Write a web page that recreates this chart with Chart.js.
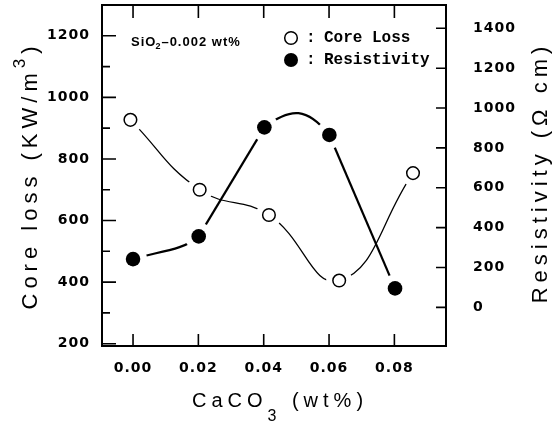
<!DOCTYPE html>
<html>
<head>
<meta charset="utf-8">
<script src="https://cdn.jsdelivr.net/npm/chart.js@4"></script>
<style>
  html, body { margin: 0; padding: 0; background: #fff; }
</style>
</head>
<body>
<canvas id="chart1" width="555" height="422"></canvas>
<script>
// CaCO3 content (wt%), one list per series
const coreLossX = [-0.0008, 0.0204, 0.0416, 0.0631, 0.0857];
const coreLoss = [927, 700, 618, 405, 754];          // KW/m3, left axis
const resistX = [0.000, 0.0201, 0.0402, 0.0601, 0.0802];
const resistivity = [242, 356, 903, 865, 95];        // ohm cm, right axis

// tick values
const xTicks = [0, 0.02, 0.04, 0.06, 0.08];
const lossTicks = [200, 400, 600, 800, 1000, 1200];
const lossMinorTicks = [300, 500, 700, 900, 1100];
const resTicks = [0, 200, 400, 600, 800, 1000, 1200, 1400];

function toPoints(xs, ys) {
  return xs.map((x, i) => ({ x: x, y: ys[i] }));
}

// show only some segments of a line (the resistivity curve is drawn in pieces)
function onlySegments(list) {
  return { borderColor: c => list.includes(c.p0DataIndex) ? '#000' : 'rgba(0,0,0,0)' };
}

const tickFont = { family: 'DejaVu Sans', size: 14, weight: 'bold' };

// draws a row of text pieces (for super/subscripts) centred on cx, baseline cy
function drawParts(ctx, parts, cx, cy, rot, spacing) {
  ctx.save();
  ctx.translate(cx, cy);
  ctx.rotate(rot);
  ctx.letterSpacing = spacing + 'px';
  ctx.textAlign = 'left';
  ctx.textBaseline = 'alphabetic';
  ctx.fillStyle = '#000';
  let total = 0;
  parts.forEach(p => { ctx.font = p.font; p.w = ctx.measureText(p.text).width; total += p.w; });
  let x = -total / 2;
  parts.forEach(p => { ctx.font = p.font; ctx.fillText(p.text, x, p.dy || 0); x += p.w; });
  ctx.restore();
}

const decor = {
  id: 'decor',
  beforeDraw(chart) {
    chart.ctx.letterSpacing = '1px';
  },
  afterDraw(chart) {
    const ctx = chart.ctx;
    const a = chart.chartArea;
    const sx = chart.scales.x, sy = chart.scales.y, sr = chart.scales.y1;
    ctx.save();
    ctx.strokeStyle = '#000';
    ctx.lineWidth = 2;
    ctx.strokeRect(a.left, a.top, a.right - a.left, a.bottom - a.top);

    // inward tick marks
    ctx.lineWidth = 1.6;
    ctx.beginPath();
    xTicks.forEach(v => {
      const px = sx.getPixelForValue(v);
      ctx.moveTo(px, a.bottom); ctx.lineTo(px, a.bottom - 12);
      ctx.moveTo(px, a.top); ctx.lineTo(px, a.top + 13);
    });
    lossTicks.forEach(v => {
      const py = sy.getPixelForValue(v);
      ctx.moveTo(a.left, py); ctx.lineTo(a.left + 14, py);
    });
    lossMinorTicks.forEach(v => {
      const py = sy.getPixelForValue(v);
      ctx.moveTo(a.left, py); ctx.lineTo(a.left + 8, py);
    });
    resTicks.forEach(v => {
      const py = sr.getPixelForValue(v);
      ctx.moveTo(a.right, py); ctx.lineTo(a.right - 10, py);
    });
    ctx.stroke();

    // legend
    const lx = a.left + 189;
    ctx.lineWidth = 1.5;
    ctx.fillStyle = '#fff';
    ctx.beginPath(); ctx.arc(lx, a.top + 33, 6.3, 0, Math.PI * 2); ctx.fill(); ctx.stroke();
    ctx.fillStyle = '#000';
    ctx.beginPath(); ctx.arc(lx, a.top + 55, 7, 0, Math.PI * 2); ctx.fill();
    ctx.font = 'bold 16px "Liberation Mono"';
    ctx.letterSpacing = '0px';
    ctx.textBaseline = 'middle';
    ctx.textAlign = 'left';
    ctx.fillText(':', lx + 15, a.top + 33);
    ctx.fillText(':', lx + 15, a.top + 55);
    ctx.fillText('Core Loss', lx + 33, a.top + 33);
    ctx.fillText('Resistivity', lx + 33, a.top + 55);
    ctx.restore();

    // composition note
    ctx.save();
    ctx.letterSpacing = '1px';
    ctx.fillStyle = '#000';
    ctx.textBaseline = 'alphabetic';
    let nx = a.left + 29;
    const ny = a.top + 41;
    ctx.font = 'bold 13px "Liberation Sans"';
    ctx.fillText('SiO', nx, ny); nx += ctx.measureText('SiO').width;
    ctx.font = 'bold 9px "Liberation Sans"';
    ctx.fillText('2', nx - 1, ny + 3); nx += ctx.measureText('2').width - 1;
    ctx.font = 'bold 13px "Liberation Sans"';
    ctx.fillText('\u20130.002 wt%', nx, ny);
    ctx.restore();

    // axis titles
    const big = '22px "Liberation Sans"';
    const small = '17px "Liberation Sans"';
    drawParts(ctx, [
      { text: 'Core loss (KW/m', font: big },
      { text: '3', font: small, dy: -12 },
      { text: ')', font: big }
    ], 37, (a.top + a.bottom) / 2, -Math.PI / 2, 5);
    drawParts(ctx, [
      { text: 'Resistivity (\u03A9 cm)', font: big }
    ], 547, (a.top + a.bottom) / 2 - 3, -Math.PI / 2, 5);
    drawParts(ctx, [
      { text: 'CaCO', font: '20px "Liberation Sans"' },
      { text: '3', font: '16px "Liberation Sans"', dy: 14 },
      { text: ' (wt%)', font: '20px "Liberation Sans"' }
    ], (a.left + a.right) / 2 + 6, 407, 0, 5);
  }
};

new Chart(document.getElementById('chart1'), {
  type: 'line',
  data: {
    datasets: [
      { // core loss markers
        data: toPoints(coreLossX, coreLoss), yAxisID: 'y', showLine: false,
        pointRadius: 6.3, pointBorderWidth: 1.5, pointBorderColor: '#000',
        pointBackgroundColor: '#fff', order: 0
      },
      { // resistivity markers
        data: toPoints(resistX, resistivity), yAxisID: 'y1', showLine: false,
        pointRadius: 7.3, pointBorderWidth: 0, pointBackgroundColor: '#000', order: 0
      },
      { // white gaps round the markers
        data: toPoints(coreLossX, coreLoss), yAxisID: 'y', showLine: false,
        pointRadius: 13, pointBorderWidth: 0, pointBackgroundColor: '#fff', order: 1
      },
      {
        data: toPoints(resistX, resistivity), yAxisID: 'y1', showLine: false,
        pointRadius: 14, pointBorderWidth: 0, pointBackgroundColor: '#fff', order: 1
      },
      { // core loss curve
        data: toPoints(coreLossX, coreLoss), yAxisID: 'y', pointRadius: 0,
        borderColor: '#000', borderWidth: 1.3, tension: 0.45, fill: false, order: 2
      },
      { // resistivity: gentle start
        data: toPoints(resistX, resistivity), yAxisID: 'y1', pointRadius: 0,
        borderWidth: 2.2, tension: 0.3, fill: false, order: 2, segment: onlySegments([0])
      },
      { // resistivity: arched top
        data: toPoints(resistX, resistivity), yAxisID: 'y1', pointRadius: 0,
        borderWidth: 2.2, tension: 0.6, fill: false, order: 2, segment: onlySegments([2])
      },
      { // resistivity: straight climbs
        data: toPoints(resistX, resistivity), yAxisID: 'y1', pointRadius: 0,
        borderWidth: 2.2, tension: 0, fill: false, order: 2, segment: onlySegments([1, 3])
      }
    ]
  },
  options: {
    responsive: false,
    animation: false,
    events: [],
    layout: { autoPadding: false, padding: { top: 5, left: 0, right: 0, bottom: 0 } },
    plugins: { legend: { display: false }, tooltip: { enabled: false } },
    scales: {
      x: {
        type: 'linear', min: -0.0095, max: 0.0958,
        afterBuildTicks: s => { s.ticks = xTicks.map(v => ({ value: v })); },
        afterFit: s => { s.height = 76; s.paddingLeft = 0; s.paddingRight = 0; },
        ticks: { callback: v => v.toFixed(2), font: tickFont, color: '#000', padding: 14, maxRotation: 0, autoSkip: false },
        grid: { display: false, drawTicks: false },
        border: { display: false }
      },
      y: {
        position: 'left', min: 192.5, max: 1300,
        afterBuildTicks: s => { s.ticks = lossTicks.map(v => ({ value: v })); },
        afterFit: s => { s.width = 102; s.paddingTop = 0; s.paddingBottom = 0; },
        ticks: { callback: v => String(v), font: tickFont, color: '#000', padding: 12 },
        grid: { display: false, drawTicks: false },
        border: { display: false }
      },
      y1: {
        position: 'right', min: -194, max: 1517,
        afterBuildTicks: s => { s.ticks = resTicks.map(v => ({ value: v })); },
        afterFit: s => { s.width = 109; s.paddingTop = 0; s.paddingBottom = 0; },
        ticks: { callback: v => String(v), font: tickFont, color: '#000', padding: 27 },
        grid: { display: false, drawTicks: false },
        border: { display: false }
      }
    }
  },
  plugins: [decor]
});
</script>
</body>
</html>
